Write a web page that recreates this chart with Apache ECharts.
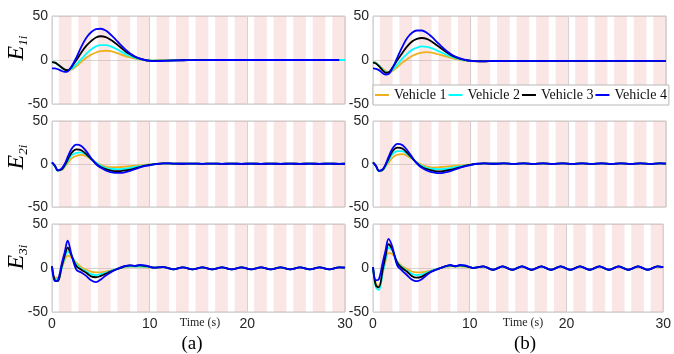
<!DOCTYPE html>
<html><head><meta charset="utf-8">
<script src="https://cdn.jsdelivr.net/npm/echarts@6/dist/echarts.min.js"></script>
<style>html,body{margin:0;padding:0;background:#fff}#c{width:674px;height:354px}</style>
</head><body><div id="c"></div>
<script>
// time samples (s)
const t = [0,0.3,0.6,1,1.3,1.6,2,2.5,3,3.5,4,4.5,5,5.5,6,6.5,7,7.5,8,8.5,9,9.5,10,
  10.4,11.4,12.4,13.4,14.4,15.4,16.4,17.4,18.4,19.4,20.4,21.4,22.4,23.4,24.4,25.4,26.4,27.4,28.4,29.4,30];
// switching intervals (shaded)
const bands = [[0.7,2],[2.7,4],[4.7,6],[6.7,8],[8.7,10],[10.7,12],[12.7,14],[14.7,16],[16.7,18],[18.7,20],[20.7,22],[22.7,24],[24.7,26],[26.7,28],[28.7,30]];
const names = ['Vehicle 1','Vehicle 2','Vehicle 3','Vehicle 4'];
const yTicks = [-50, 0, 50];
const xTicks = [0, 10, 20, 30];
const yLabels = ['1i','2i','3i'];
const panelTags = ['(a)','(b)'];

// (a) E1
const E1a_v1 = [-2,-3,-5,-8.5,-10.5,-11.5,-11,-7,-2,2.5,6,8.5,10,10.5,10,8.5,6.5,4.5,3,1.5,0.5,0,-0.3,
  -0.5,-0.5,-0.3,-0.2,-0.1,0,0,0,0,0,0,0,0,0,0,0,0,0,0,0,0];
const E1a_v2 = [-2.5,-3,-5.5,-9,-11,-12,-10,-5,1,7,12,15.5,17,17,15.5,13,10,7,4.5,2.5,1,0,-0.5,
  -0.8,-0.7,-0.4,-0.2,-0.1,0,0,0,0,0,0,0,0,0,0,0,0,0,0,0,0];
const E1a_v3 = [-2.5,-3,-5,-8.5,-11,-11.5,-8,0,8.5,16,21.5,25.5,27,26,23,19,14.5,10,6.5,3.5,1.5,0,-0.8,
  -1,-0.8,-0.5,-0.3,-0.2,-0.1,0,0,0,0,0,0,0,0,0,0,0,0,0,0];
const E1a_v4 = [-9.5,-9.5,-10.5,-12.5,-13.5,-13,-7.5,3,15,25,31.5,35,35.5,33.5,29,23.5,17.5,12,7.5,4,1.5,0,-1,
  -1.3,-1,-0.6,-0.3,-0.2,-0.1,0,0,0,0,0,0,0,0,0,0,0,0,0,0];
// (b) E1
const E1b_v1 = [-2,-3,-6,-10,-12.5,-14,-12.5,-8,-3,1,4.5,7,8.5,9,8.5,7,5.5,4,2.5,1,0,-0.8,-1.3,
  -1.5,-1.4,-1.1,-1.2,-0.9,-1.2,-0.9,-1.2,-0.9,-1.1,-0.9,-1.1,-0.9,-1.1,-0.9,-1.1,-0.9,-1.1,-0.9,-1.1,-1];
const E1b_v2 = [-2.5,-3.5,-6.5,-11,-14,-14.5,-11,-5,1.5,7,11.5,14,15.5,15,13.5,11,8.5,6,4,2,0.5,-0.5,-1,
  -1.2,-1.3,-1.1,-1.2,-0.9,-1.2,-0.9,-1.2,-0.9,-1.1,-0.9,-1.1,-0.9,-1.1,-0.9,-1.1,-0.9,-1.1,-0.9,-1.1,-1];
const E1b_v3 = [-3,-4,-7,-12,-14.5,-14,-8.5,0,8,15.5,21,24,25,24,21,17,13,9,5.5,3,1,0,-0.8,
  -1.2,-1.4,-1.1,-1.2,-0.9,-1.2,-0.9,-1.2,-0.9,-1.1,-0.9,-1.1,-0.9,-1.1,-0.9,-1.1,-0.9,-1.1,-0.9,-1.1,-1];
const E1b_v4 = [-9.5,-10,-11.5,-15,-16.5,-16,-9,3,15,25,31,33.5,33.5,31,26.5,21,15.5,10.5,6.5,3.5,1.5,0,-1,
  -1.3,-1.5,-1.1,-1.2,-0.9,-1.2,-0.9,-1.2,-0.9,-1.1,-0.9,-1.1,-0.9,-1.1,-0.9,-1.1,-0.9,-1.1,-0.9,-1.1,-1];
// (a) E2
const E2a_v1 = [1.5,-2.5,-7.5,-7,-3.5,1,6.5,9.5,10.5,9,5.5,2,-1,-3,-3.8,-3.8,-3.5,-3,-2.5,-2,-1.5,-1,-0.5,
  -0.2,0.6,0.4,0.3,0.5,0.2,0.5,0.2,0.4,0.2,0.4,0.2,0.4,0.2,0.4,0.2,0.4,0.2,0.4,0.2,0.3];
const E2a_v2 = [1.5,-2.5,-8,-6.5,-2.5,3,10,13,13.5,10.5,6,1.5,-2,-4.5,-5.5,-6,-6,-5.5,-4.5,-3.5,-2.5,-1.5,-0.8,
  -0.3,0.7,0.5,0.3,0.5,0.2,0.5,0.2,0.4,0.2,0.4,0.2,0.4,0.2,0.4,0.2,0.4,0.2,0.4,0.2,0.3];
const E2a_v3 = [2,-2,-7.5,-6,-1.5,5,13,17,16,11.5,6,0.5,-3.5,-6,-7.5,-8.3,-8.3,-7.5,-6.5,-5,-3.5,-2,-1,
  -0.4,0.8,0.5,0.3,0.5,0.2,0.5,0.2,0.4,0.2,0.4,0.2,0.4,0.2,0.4,0.2,0.4,0.2,0.4,0.2,0.3];
const E2a_v4 = [2,-2,-7.5,-5,0,8,17.5,22.5,21,15,7,0,-4.5,-7.5,-9.5,-10.3,-10.3,-9.5,-8,-6,-4,-2.5,-1.5,
  -0.5,0.8,0.5,0.3,0.5,0.2,0.5,0.2,0.4,0.2,0.4,0.2,0.4,0.2,0.4,0.2,0.4,0.2,0.4,0.2,0.3];
// (b) E2
const E2b_v1 = [1.5,-2.5,-8,-7.5,-3,1.5,7.5,11,11.5,9.5,6,2,-1,-3,-4,-4,-3.5,-3,-2.5,-2,-1.5,-1,-0.5,
  0,0.7,0.3,0.7,0.2,0.7,0.2,0.7,0.2,0.7,0.2,0.7,0.2,0.7,0.2,0.7,0.2,0.7,0.2,0.7,0.4];
const E2b_v2 = [1.5,-2.5,-8.5,-7,-2,4,11.5,15,15,11.5,6.5,1.5,-2,-4.5,-5.5,-6,-6,-5.5,-4.5,-3.5,-2.5,-1.5,-0.8,
  0,0.7,0.3,0.7,0.2,0.7,0.2,0.7,0.2,0.7,0.2,0.7,0.2,0.7,0.2,0.7,0.2,0.7,0.2,0.7,0.4];
const E2b_v3 = [2,-2,-8,-6.5,-1,6,15,19,18,13,7,1,-3.5,-6,-7.5,-8.5,-8.5,-7.5,-6.5,-5,-3.5,-2,-1,
  0,0.8,0.3,0.7,0.2,0.7,0.2,0.7,0.2,0.7,0.2,0.7,0.2,0.7,0.2,0.7,0.2,0.7,0.2,0.7,0.4];
const E2b_v4 = [2,-2,-8,-6,0,8.5,18,23.5,22,16,8,0.5,-4.5,-7.5,-9.5,-10.5,-10.5,-9.5,-8,-6,-4,-2.5,-1.3,
  0,0.8,0.3,0.7,0.2,0.7,0.2,0.7,0.2,0.7,0.2,0.7,0.2,0.7,0.2,0.7,0.2,0.7,0.2,0.7,0.4];
// (a) E3
const E3a_v1 = [2,-11,-11,0,9,14,12,6,1,-2,-4,-5,-5,-4,-3,-1.5,0,1,1.5,1.5,1.5,1,0.5,
  0.5,1,-1.5,0.8,-1.5,0.8,-1.5,0.8,-1.5,0.8,-1.5,0.8,-1.5,0.8,-1.5,0.8,-1.5,0.8,-1.5,0.8,0.5];
const E3a_v2 = [2,-13,-13,0,12,19,14,4,-1,-4,-7,-8,-7,-5.5,-3.5,-1.5,0,1.5,2,1.5,2,1.5,1,
  0.5,1,-1.5,0.8,-1.5,0.8,-1.5,0.8,-1.5,0.8,-1.5,0.8,-1.5,0.8,-1.5,0.8,-1.5,0.8,-1.5,0.8,0.5];
const E3a_v3 = [2,-14,-15,2,14,23,14,2,-2,-5.5,-9.5,-10.5,-9,-6.5,-4,-2,0,2,3,2.5,3,2.5,1.5,
  0.5,1,-1.5,0.8,-1.5,0.8,-1.5,0.8,-1.5,0.8,-1.5,0.8,-1.5,0.8,-1.5,0.8,-1.5,0.8,-1.5,0.8,0.5];
const E3a_v4 = [2,-15,-14,5,18,31,15,-2,-5,-9,-14,-16,-13,-8.5,-5,-2,0.5,2.5,3,2.5,3.5,3,1.5,
  0.5,1,-1.5,0.8,-1.5,0.8,-1.5,0.8,-1.5,0.8,-1.5,0.8,-1.5,0.8,-1.5,0.8,-1.5,0.8,-1.5,0.8,0.5];
// (b) E3
const E3b_v1 = [1,-18,-20,-5,8,17,16,8,2,-1,-4,-5,-5,-4,-3,-1.5,0,1,2,1.5,2,1.5,0.5,
  0,1.8,-2,1.8,-2,1.8,-2,1.8,-2,1.8,-2,1.8,-2,1.8,-2,1.8,-2,1.8,-2,1.8,1];
const E3b_v2 = [1,-22,-25,-6,10,23,20,7,1,-3,-6.5,-8,-7.5,-5.5,-3.5,-1.5,0,1.5,2.5,2,2.5,2,1,
  0,1.8,-2,1.8,-2,1.8,-2,1.8,-2,1.8,-2,1.8,-2,1.8,-2,1.8,-2,1.8,-2,1.8,1];
const E3b_v3 = [1,-20,-22,-2,14,27,21,6,0,-4,-9,-11,-10,-7,-4,-2,0,2,3,2,3,2.5,1,
  0,1.8,-2,1.8,-2,1.8,-2,1.8,-2,1.8,-2,1.8,-2,1.8,-2,1.8,-2,1.8,-2,1.8,1];
const E3b_v4 = [1,-14,-13,6,20,33,24,3,-3,-8,-13,-15,-13,-8.5,-4.5,-2,0,2,3.5,2,3.5,3,1,
  0,1.8,-2,1.8,-2,1.8,-2,1.8,-2,1.8,-2,1.8,-2,1.8,-2,1.8,-2,1.8,-2,1.8,1];

const panels = [
  [E1a_v1,E1a_v2,E1a_v3,E1a_v4],[E1b_v1,E1b_v2,E1b_v3,E1b_v4],
  [E2a_v1,E2a_v2,E2a_v3,E2a_v4],[E2b_v1,E2b_v2,E2b_v3,E2b_v4],
  [E3a_v1,E3a_v2,E3a_v3,E3a_v4],[E3b_v1,E3b_v2,E3b_v3,E3b_v4]
];

const colors = ['#EDB120','#00FFFF','#000000','#0000FF'];
const colLeft = [52, 373];
const rowTop = [16, 121, 224];
const rowH = [88, 86, 88];
const gridW = 293;
const sans = 'Liberation Sans, Arial, sans-serif';
const serif = 'Liberation Serif, Times New Roman, serif';

const grid = [], xAxis = [], yAxis = [], series = [];
for (let r = 0; r < 3; r++) {
  for (let c = 0; c < 2; c++) {
    const i = r * 2 + c;
    grid.push({left: colLeft[c], top: rowTop[r], width: gridW, height: rowH[r],
      show: true, borderColor: '#c6c6c6', borderWidth: 1, backgroundColor: 'transparent'});
    xAxis.push({type: 'value', gridIndex: i, min: xTicks[0], max: xTicks[xTicks.length-1], interval: 10,
      axisLine: {show: false}, axisTick: {show: false},
      axisLabel: {show: r === 2, fontFamily: sans, fontSize: 14, color: '#262626', margin: 5},
      splitLine: {show: true, lineStyle: {color: '#d6d6d6', width: 1}}});
    yAxis.push({type: 'value', gridIndex: i, min: yTicks[0], max: yTicks[2], interval: 50,
      axisLine: {show: false}, axisTick: {show: false},
      axisLabel: {show: true, fontFamily: sans, fontSize: 14, color: '#262626', margin: 4},
      splitLine: {show: true, lineStyle: {color: '#d6d6d6', width: 1}}});
    series.push({type: 'custom', xAxisIndex: i, yAxisIndex: i, silent: true, z: 1,
      data: bands,
      renderItem: function (params, api) {
        const p0 = api.coord([api.value(0), yTicks[2]]);
        const p1 = api.coord([api.value(1), yTicks[0]]);
        return {type: 'rect', shape: {x: p0[0], y: p0[1], width: p1[0]-p0[0], height: p1[1]-p0[1]},
          style: {fill: 'rgba(240,150,150,0.24)'}};
      }});
    panels[i].forEach((arr, k) => {
      series.push({type: 'line', name: names[k], xAxisIndex: i, yAxisIndex: i, z: 2 + k,
        data: t.map((tv, j) => [tv, arr[j]]), showSymbol: false, smooth: 0.35,
        lineStyle: {color: colors[k], width: 1.8}, itemStyle: {color: colors[k]}, silent: true,
        animation: false});
    });
  }
}

const graphic = [];
const yLabelPos = [[17, 48], [17, 157], [17, 257]];
yLabels.forEach((s, r) => {
  graphic.push({type: 'text', x: yLabelPos[r][0], y: yLabelPos[r][1], rotation: Math.PI / 2,
    style: {text: '{e|E}{s|' + s + '}', align: 'center', verticalAlign: 'middle',
      rich: {e: {fontFamily: serif, fontStyle: 'italic', fontSize: 24, lineHeight: 26, fill: '#000', color: '#000'},
             s: {fontFamily: serif, fontStyle: 'italic', fontSize: 13, lineHeight: 26, verticalAlign: 'bottom', fill: '#000', color: '#000'}}}});
});
[200, 523].forEach(x => graphic.push({type: 'text', x: x, y: 323,
  style: {text: 'Time (s)', fontFamily: serif, fontSize: 12, fill: '#262626', align: 'center', verticalAlign: 'middle'}}));
panelTags.forEach((s, c) => graphic.push({type: 'text', x: [192, 525][c], y: 344,
  style: {text: s, fontFamily: serif, fontSize: 19, fill: '#000', align: 'center', verticalAlign: 'middle'}}));

const chart = echarts.init(document.getElementById('c'), null, {renderer: 'canvas'});
chart.setOption({
  animation: false,
  backgroundColor: '#fff',
  grid, xAxis, yAxis, series, graphic,
  legend: {data: names, left: 373, top: 85, orient: 'horizontal', icon: 'rect',
    itemWidth: 14, itemHeight: 2, itemGap: 2, padding: [3, 2],
    backgroundColor: '#fff', borderColor: '#b8b8b8', borderWidth: 1,
    textStyle: {fontFamily: serif, fontSize: 14, color: '#111'}, selectedMode: false}
});
</script></body></html>
